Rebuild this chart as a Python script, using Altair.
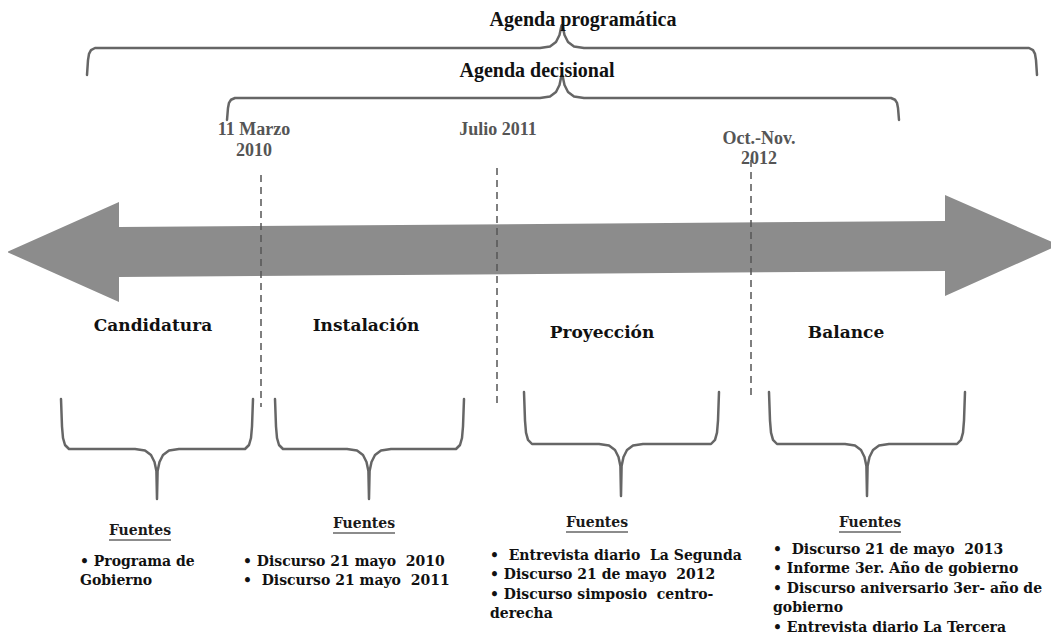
import altair as alt
import pandas as pd

NB = "\u00a0"

# ---- arrow (double-headed band) outline: x, upper edge, lower edge ----
arrow_x = [7, 119, 119.01, 945, 945.01, 1059]
arrow_top = [252, 202, 227, 221, 195, 245]
arrow_bot = [252, 302, 277, 271, 296, 245]

# ---- dashed period separators ----
sep_x = [261, 497, 751]
sep_top = [175, 168, 160]
sep_bot = [407, 403, 397]

# ---- braces: left, right, centre, open end y, bar y, tip y ----
brace_ids = ["prog", "dec", "b1", "b2", "b3", "b4"]
brace_left = [87, 227, 61, 275, 524, 769]
brace_right = [1037, 899, 253, 464, 719, 965]
brace_center = [562, 562, 157, 369, 621, 867]
brace_open = [75, 120, 399, 399, 392, 392]
brace_bar = [48, 98, 449, 449, 444, 444]
brace_tip = [25, 78, 499, 499, 496, 496]

# ---- texts ----
agenda_labels = ["Agenda programática", "Agenda decisional"]
agenda_x = [583, 537]
agenda_y = [26, 77]

date_lines = ["11 Marzo", "2010", "Julio 2011", "Oct.-Nov.", "2012"]
date_x = [254, 254, 498, 759, 759]
date_y = [130, 151, 130, 139, 159]

phase_labels = ["Candidatura", "Instalación", "Proyección", "Balance"]
phase_x = [153, 366, 602, 846]
phase_y = [326, 326, 333, 333]

fuentes_x = [140, 364, 597, 870]
fuentes_y = [531, 524, 523, 523]
fuentes_half = [31, 31, 31, 31]

bullet_lines = [
    "• Programa de", "Gobierno",
    "• Discurso 21 mayo  2010", "•  Discurso 21 mayo  2011",
    "•   Entrevista diario  La Segunda", "• Discurso 21 de mayo  2012",
    "• Discurso simposio  centro-", "derecha",
    "•   Discurso 21 de mayo  2013", "• Informe 3er. Año de gobierno",
    "• Discurso aniversario 3er- año de", "gobierno",
    "• Entrevista diario La Tercera",
]
bullet_x = [80, 80, 243, 243, 490, 490, 490, 490, 773, 773, 773, 773, 773]
bullet_y = [562, 581, 562, 581, 556, 575, 595, 614, 550, 569, 589, 608, 628]


def brace_path(xl, xr, xc, ye, yb, yt):
    d = 1 if yt > yb else -1
    h = abs(yb - ye)
    pts = [
        (xl, ye), (xl + 1, yb - d * h * 0.45), (xl + 2, yb - d * h * 0.22),
        (xl + 4, yb - d * h * 0.08), (xl + 8, yb),
        (xc - 22, yb), (xc - 12, yb + d * 1.5), (xc - 6, yb + d * 6),
        (xc - 2.5, yb + d * 13), (xc - 0.6, yb + d * 22), (xc, yt),
        (xc + 0.6, yb + d * 22), (xc + 2.5, yb + d * 13), (xc + 6, yb + d * 6),
        (xc + 12, yb + d * 1.5), (xc + 22, yb),
        (xr - 8, yb), (xr - 4, yb - d * h * 0.08), (xr - 2, yb - d * h * 0.22),
        (xr - 1, yb - d * h * 0.45), (xr, ye),
    ]
    return pts


rows = []
for i, bid in enumerate(brace_ids):
    pts = brace_path(brace_left[i], brace_right[i], brace_center[i],
                     brace_open[i], brace_bar[i], brace_tip[i])
    for k, (px, py) in enumerate(pts):
        rows.append({"id": bid, "k": k, "x": px, "y": py})
brace_df = pd.DataFrame(rows)

arrow_df = pd.DataFrame({"x": arrow_x, "y": arrow_top, "y2": arrow_bot})
sep_df = pd.DataFrame({"x": sep_x, "y": sep_top, "y2": sep_bot})
agenda_df = pd.DataFrame({"t": agenda_labels, "x": agenda_x, "y": agenda_y})
date_df = pd.DataFrame({"t": date_lines, "x": date_x, "y": date_y})
phase_df = pd.DataFrame({"t": phase_labels, "x": phase_x, "y": phase_y})
fuentes_df = pd.DataFrame({"t": ["Fuentes"] * 4, "x": fuentes_x, "y": fuentes_y})
under_df = pd.DataFrame({
    "x": [a - h for a, h in zip(fuentes_x, fuentes_half)],
    "x2": [a + h for a, h in zip(fuentes_x, fuentes_half)],
    "y": [b + 9 for b in fuentes_y],
})
bullet_df = pd.DataFrame({
    "t": [s.replace("  ", NB + " ").replace("•   ", "•" + NB + NB + " ").replace("•  ", "•" + NB + " ")
          for s in bullet_lines],
    "x": bullet_x, "y": bullet_y,
})

X = alt.X("x:Q", scale=alt.Scale(domain=[8, 1051], nice=False, zero=False), axis=None)
Y = alt.Y("y:Q", scale=alt.Scale(domain=[8, 634], nice=False, zero=False, reverse=True), axis=None)

arrow = alt.Chart(arrow_df).mark_area(color="#8c8c8c", opacity=1).encode(
    x=X, y=Y, y2="y2:Q"
)
seps = alt.Chart(sep_df).mark_rule(color="#555555", strokeWidth=1.5, strokeDash=[7, 5]).encode(
    x=X, y=Y, y2="y2:Q"
)
braces = alt.Chart(brace_df).mark_line(
    color="#666666", strokeWidth=2.5, strokeJoin="round", strokeCap="round"
).encode(x=X, y=Y, detail="id:N", order="k:Q")

agenda = alt.Chart(agenda_df).mark_text(
    font="Liberation Serif", fontWeight="bold", fontSize=20, color="#111111",
    baseline="alphabetic", align="center"
).encode(x=X, y=Y, text="t:N")
dates = alt.Chart(date_df).mark_text(
    font="Liberation Serif", fontWeight="bold", fontSize=18, color="#555555",
    baseline="middle", align="center"
).encode(x=X, y=Y, text="t:N")
phases = alt.Chart(phase_df).mark_text(
    font="DejaVu Serif", fontWeight="bold", fontSize=17, color="#111111",
    baseline="middle", align="center"
).encode(x=X, y=Y, text="t:N")
fuentes = alt.Chart(fuentes_df).mark_text(
    font="DejaVu Serif", fontWeight="bold", fontSize=14, color="#1a1a1a",
    baseline="middle", align="center"
).encode(x=X, y=Y, text="t:N")
underline = alt.Chart(under_df).mark_rule(color="#1a1a1a", strokeWidth=1.2).encode(
    x=X, x2="x2:Q", y=Y
)
bullets = alt.Chart(bullet_df).mark_text(
    font="DejaVu Serif", fontWeight="bold", fontSize=14, color="#111111",
    baseline="middle", align="left"
).encode(x=X, y=Y, text="t:N")

chart = alt.layer(
    arrow, seps, braces, agenda, dates, phases, fuentes, underline, bullets
).properties(
    width=1043, height=626, autosize=alt.AutoSizeParams(type="none"), padding=0
).configure(background="white", view=alt.ViewConfig(stroke=None))

chart.save("out.html", embed_options={"renderer": "svg", "actions": False})
